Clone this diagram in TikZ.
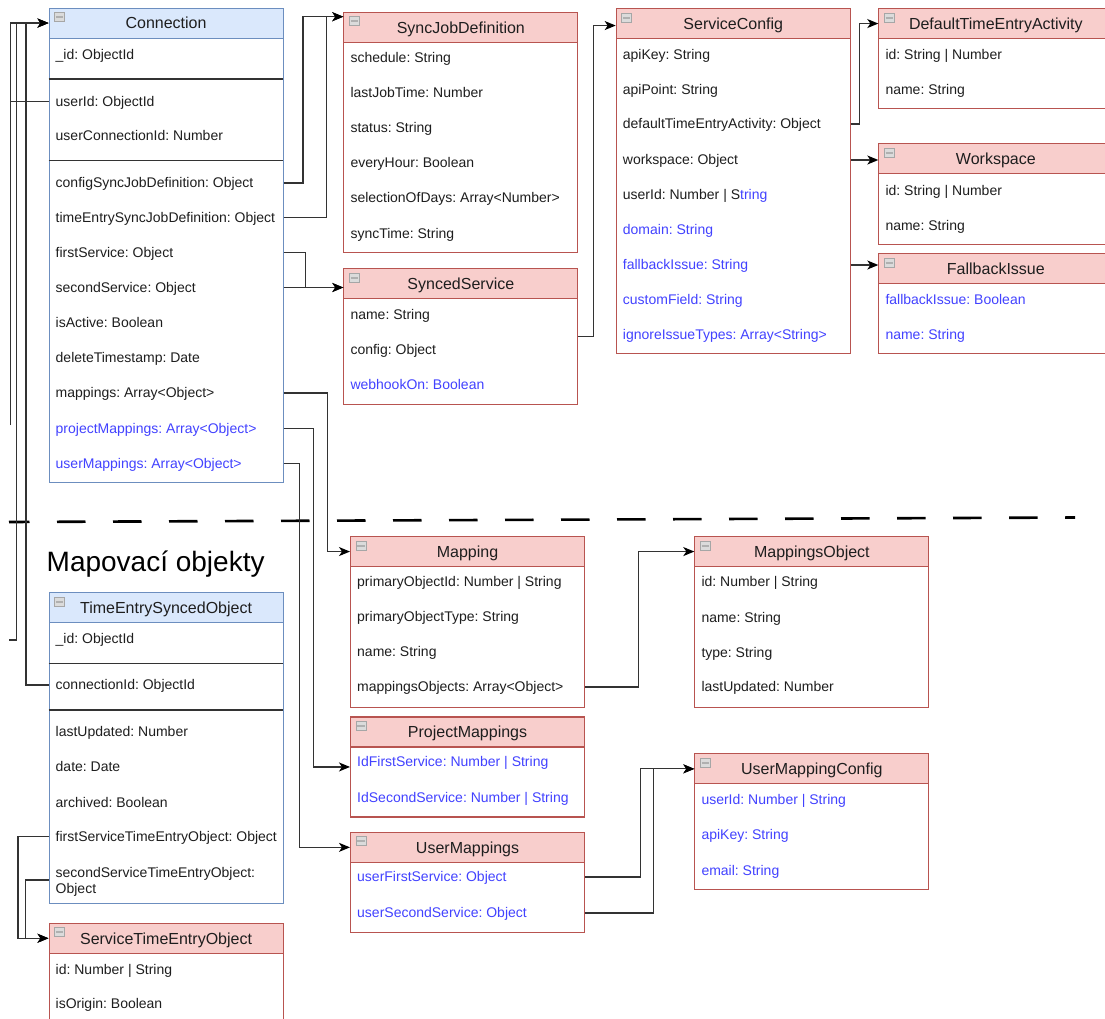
\documentclass[tikz,border=0pt]{standalone}
\usepackage{fontspec}
\setmainfont{Liberation Sans}
\usetikzlibrary{arrows.meta,calc}
\frenchspacing

\definecolor{redfill}{HTML}{F8CECC}
\definecolor{redline}{HTML}{B85450}
\definecolor{bluefill}{HTML}{DAE8FC}
\definecolor{blueline}{HTML}{6C8EBF}
\definecolor{opt}{HTML}{4242FF}
\definecolor{wire}{HTML}{333333}
\definecolor{ink}{HTML}{1E1E1E}

\tikzset{
  redbox/.style={anchor=north west, minimum width=234pt, inner sep=0pt, draw=redline, fill=white, line width=1.1pt},
  bluebox/.style={anchor=north west, minimum width=234pt, inner sep=0pt, draw=blueline, fill=white, line width=1.1pt},
  headtext/.style={anchor=north west, minimum width=234pt, minimum height=30pt, inner sep=0pt, line width=1.1pt,
    font=\fontsize{16}{19}\selectfont, text=ink, text height=11.5pt, text depth=0pt},
  redhead/.style={headtext, fill=redfill, draw=redline},
  bluehead/.style={headtext, fill=bluefill, draw=blueline},
  iconsq/.style={fill=gray!28, draw=gray!70, line width=0.7pt},
  iconbar/.style={draw=gray!62, line width=2pt},
  attr/.style={anchor=west, inner sep=0pt, text height=9.9pt, text depth=0pt,
    font=\fontsize{14}{16.3}\selectfont, text=ink},
  optattr/.style={attr, text=opt},
  divider/.style={draw=wire, line width=1.1pt},
  link/.style={draw=wire, line width=1.2pt},
  conn/.style={link, -{Stealth[length=11pt,width=9pt,inset=3pt,color=black]}},
  sectionline/.style={draw=black, line width=2.6pt, dash pattern=on 28.5pt off 27.5pt, dash phase=8pt},
}

% class box: name, colour (red/blue), left, top, height, title
\newcommand\umlclass[6]{%
  \node[#2box, minimum height=#5pt] (#1-box) at (#3,#4) {};
  \node[#2head] (#1) at (#3,#4) {#6};
  \filldraw[iconsq] ($(#1.north west)+(6,5)$) rectangle ($(#1.north west)+(16,14)$);
  \draw[iconbar] ($(#1.north west)+(7.3,9.5)$) -- ($(#1.north west)+(14.7,9.5)$);
}

\begin{document}
\begin{tikzpicture}[x=1pt,y=-1pt]
\useasboundingbox (0,0) rectangle (1105,1018);
\clip (0,0) rectangle (1105,1018);
\fill[white] (0,0) rectangle (1105,1018);

% ---------- main entities ----------
\umlclass{c}{blue}{48.5}{7.5}{474.5}{Connection}
\node[attr] (c-id)   at (55.5,54.5)  {\_id: ObjectId};
\draw[divider] (48.5,79) -- (282.5,79);
\node[attr] (c-uid)  at (55.5,101.5) {userId: ObjectId};
\node[attr] (c-ucid) at (55.5,135.5) {userConnectionId: Number};
\draw[divider] (48.5,160.7) -- (282.5,160.7);
\node[attr] (c-cfg)  at (55.5,183)   {configSyncJobDefinition: Object};
\node[attr] (c-tes)  at (55.5,217.5) {timeEntrySyncJobDefinition: Object};
\node[attr] (c-fs)   at (55.5,252.5) {firstService: Object};
\node[attr] (c-ss)   at (55.5,287.5) {secondService: Object};
\node[attr] (c-act)  at (55.5,322.5) {isActive: Boolean};
\node[attr] (c-del)  at (55.5,357.5) {deleteTimestamp: Date};
\node[attr] (c-map)  at (55.5,393)   {mappings: Array<Object>};
\node[optattr] (c-pm) at (55.5,428.5) {projectMappings: Array<Object>};
\node[optattr] (c-um) at (55.5,463.5) {userMappings: Array<Object>};

\umlclass{sjd}{red}{343.3}{11.7}{240.6}{SyncJobDefinition}
\node[attr] (sjd-a) at (350.3,57.3)  {schedule: String};
\node[attr] (sjd-b) at (350.3,92.3)  {lastJobTime: Number};
\node[attr] (sjd-c) at (350.3,127.7) {status: String};
\node[attr] (sjd-d) at (350.3,162.7) {everyHour: Boolean};
\node[attr] (sjd-e) at (350.3,197.3) {selectionOfDays: Array<Number>};
\node[attr] (sjd-f) at (350.3,233.3) {syncTime: String};

\umlclass{ss}{red}{343.3}{268.3}{135.7}{SyncedService}
\node[attr] (ss-a) at (350.3,314.3) {name: String};
\node[attr] (ss-b) at (350.3,350)   {config: Object};
\node[optattr] (ss-c) at (350.3,385) {webhookOn: Boolean};

\umlclass{sc}{red}{615.7}{8}{345.3}{ServiceConfig}
\node[attr] (sc-a) at (622.7,54.3)  {apiKey: String};
\node[attr] (sc-b) at (622.7,89.3)  {apiPoint: String};
\node[attr] (sc-dta) at (622.7,124) {defaultTimeEntryActivity: Object};
\node[attr] (sc-ws) at (622.7,160)  {workspace: Object};
\node[attr] (sc-uid) at (622.7,194.3) {userId: Number | S{\color{opt}tring}};
\node[optattr] (sc-dom) at (622.7,229.3) {domain: String};
\node[optattr] (sc-fb) at (622.7,265)  {fallbackIssue: String};
\node[optattr] (sc-cf) at (622.7,300)  {customField: String};
\node[optattr] (sc-ig) at (622.7,334.3) {ignoreIssueTypes: Array<String>};

\umlclass{dtea}{red}{878.3}{8}{100.3}{DefaultTimeEntryActivity}
\node[attr] (dtea-a) at (885.3,54.3) {id: String | Number};
\node[attr] (dtea-b) at (885.3,89.3) {name: String};

\umlclass{ws}{red}{878.3}{143.3}{100.7}{Workspace}
\node[attr] (ws-a) at (885.3,190.7) {id: String | Number};
\node[attr] (ws-b) at (885.3,225.7) {name: String};

\umlclass{fi}{red}{878.3}{253.3}{100}{FallbackIssue}
\node[optattr] (fi-a) at (885.3,299.3) {fallbackIssue: Boolean};
\node[optattr] (fi-b) at (885.3,334.3) {name: String};

% ---------- section divider ----------
\coordinate (div-l) at (9,522);
\coordinate (div-r) at (1075,517.5);
\draw[sectionline] (div-l) -- (div-r);
\node[anchor=west, inner sep=0pt, text height=20pt, text depth=0pt, font=\fontsize{28}{32}\selectfont, text=black]
  (title) at (46.5,561.7) {Mapovací objekty};

% ---------- mapping objects ----------
\umlclass{map}{red}{350}{536}{171}{Mapping}
\node[attr] (map-a) at (357,581.7) {primaryObjectId: Number | String};
\node[attr] (map-b) at (357,617)   {primaryObjectType: String};
\node[attr] (map-c) at (357,652)   {name: String};
\node[attr] (map-d) at (357,687)   {mappingsObjects: Array<Object>};

\umlclass{pm}{red}{350}{716.4}{100}{ProjectMappings}
\node[optattr] (pm-a) at (357,762) {IdFirstService: Number | String};
\node[optattr] (pm-b) at (357,798) {IdSecondService: Number | String};

\umlclass{um}{red}{350}{831.8}{100}{UserMappings}
\node[optattr] (um-a) at (357,877) {userFirstService: Object};
\node[optattr] (um-b) at (357,913) {userSecondService: Object};

\umlclass{mo}{red}{694.3}{536}{170.7}{MappingsObject}
\node[attr] (mo-a) at (701.3,581.7) {id: Number | String};
\node[attr] (mo-b) at (701.3,617.3) {name: String};
\node[attr] (mo-c) at (701.3,652.3) {type: String};
\node[attr] (mo-d) at (701.3,686.7) {lastUpdated: Number};

\umlclass{umc}{red}{694.3}{753.3}{135.7}{UserMappingConfig}
\node[optattr] (umc-a) at (701.3,800)   {userId: Number | String};
\node[optattr] (umc-b) at (701.3,835)   {apiKey: String};
\node[optattr] (umc-c) at (701.3,870.7) {email: String};

\umlclass{t}{blue}{48.5}{592.3}{311}{TimeEntrySyncedObject}
\node[attr] (t-id) at (55.5,638.3) {\_id: ObjectId};
\draw[divider] (48.5,663.3) -- (282.5,663.3);
\node[attr] (t-cid) at (55.5,685) {connectionId: ObjectId};
\draw[divider] (48.5,710) -- (282.5,710);
\node[attr] (t-lu)  at (55.5,731.7) {lastUpdated: Number};
\node[attr] (t-dt)  at (55.5,766.7) {date: Date};
\node[attr] (t-ar)  at (55.5,802.3) {archived: Boolean};
\node[attr] (t-fst) at (55.5,836.7) {firstServiceTimeEntryObject: Object};
\node[attr] (t-sst) at (55.5,872.7) {secondServiceTimeEntryObject:};
\node[attr] (t-sst2) at (55.5,889) {Object};
\coordinate (t-sst-row) at (48.5,880);

\umlclass{steo}{red}{48.5}{922.7}{130}{ServiceTimeEntryObject}
\node[attr] (steo-a) at (55.5,969.3) {id: Number | String};
\node[attr] (steo-b) at (55.5,1004)  {isOrigin: Boolean};

% ---------- connectors ----------
\coordinate (sjd-in) at ($(sjd.north west)+(0,5)$);
\coordinate (ss-in) at (ss.west |- c-ss);
\coordinate (sc-in) at ($(sc.west)+(0,2)$);

\draw[conn] (c-box.east |- c-cfg) -- ++(19.3,0) |- (sjd-in);
\draw[conn] (c-box.east |- c-tes) -- ++(42.5,0) |- (sjd-in);
\draw[conn] (c-box.east |- c-fs) -- ++(21.8,0) |- (ss-in);
\draw[conn] (c-box.east |- c-ss) -- (ss-in);
\draw[conn] (ss-box.east) -- ++(15,0) |- (sc-in);
\draw[conn] (sc-box.east |- sc-dta) -- ++(8.6,0) |- (dtea.west);
\draw[conn] (sc-box.east |- sc-ws) -- (ws.west |- sc-ws);
\draw[conn] (sc-box.east |- sc-fb) -- (fi.west |- sc-fb);

\draw[conn] (c-box.east |- c-map) -- ++(44.2,0) |- (map.west);
\draw[conn] (c-box.east |- c-pm) -- ++(29.8,0) |- (pm-box.west);
\draw[conn] (c-box.east |- c-um) -- ++(15.8,0) |- (um.west);

\draw[conn] (map-box.east |- map-d) -- ++(53.3,0) |- (mo.west);
\draw[conn] (um-box.east |- um-a) -- ++(55.3,0) |- (umc.west);
\draw[conn] (um-box.east |- um-b) -- ++(68.3,0) |- (umc.west);

\draw[conn] (t-box.west |- t-cid) -- ++(-22.5,0) |- (c.west);
\draw[conn] (t-box.west |- t-fst) -- ++(-30.5,0) |- (steo.west);
\draw[conn] (t-sst-row) -- ++(-22.8,0) |- (steo.west);

% links that lead out of the drawing on the left
\coordinate (ext-a) at (9,640);
\coordinate (ext-b) at (10.5,425);
\draw[conn] (ext-a) -- ++(7.7,0) |- (c.west);
\draw[conn] (ext-b) |- (c.west);
\draw[link] (c-box.west |- c-uid) -- (ext-b |- c-uid);
\end{tikzpicture}
\end{document}
